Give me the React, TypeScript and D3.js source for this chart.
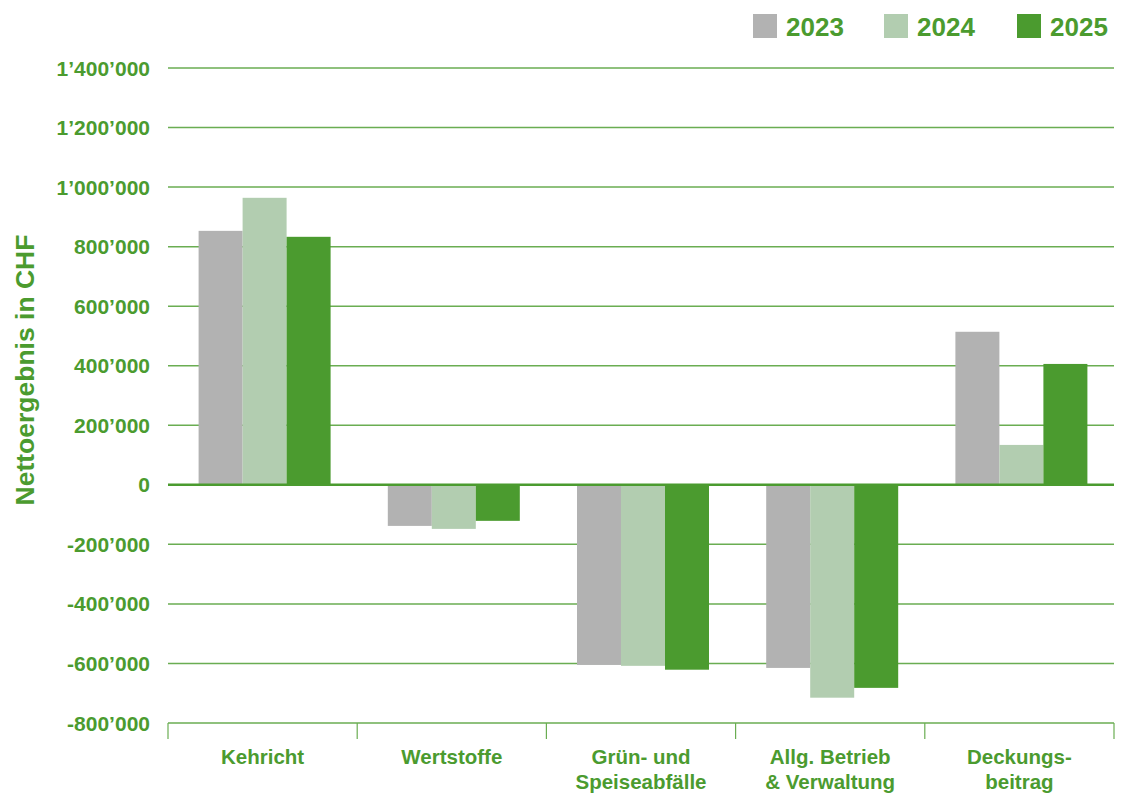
import React from "react";
import * as d3 from "d3";

const categories: string[][] = [
  ["Kehricht"],
  ["Wertstoffe"],
  ["Grün- und", "Speiseabfälle"],
  ["Allg. Betrieb", "& Verwaltung"],
  ["Deckungs-", "beitrag"],
];
const years = ["2023", "2024", "2025"];
const values2023 = [853000, -138000, -605000, -615000, 514000];
const values2024 = [964000, -148000, -608000, -715000, 134000];
const values2025 = [833000, -121000, -621000, -682000, 406000];
const yTicks = [-800000, -600000, -400000, -200000, 0, 200000, 400000, 600000, 800000, 1000000, 1200000, 1400000];
const colors = ["#b2b2b2", "#b2cdb0", "#4b9b2f"];
const GREEN = "#4b9b2f";

const fmt = (v: number) => {
  const s = Math.abs(v).toString().replace(/\B(?=(\d{3})+(?!\d))/g, "\u2019");
  return (v < 0 ? "-" : "") + s;
};

export default function App() {
  const W = 1133, H = 794;
  const left = 168, right = 1114;
  const y = d3.scaleLinear().domain([-800000, 1400000]).range([723, 68]);
  const x0 = d3.scaleBand<number>().domain(categories.map((_, i) => i)).range([left, right]).paddingInner(0).paddingOuter(0);
  const groupW = 132;
  const x1 = d3.scaleBand<number>().domain([0, 1, 2]).range([0, groupW]);
  const series = [values2023, values2024, values2025];
  const font = "'Liberation Sans', Arial, Helvetica, sans-serif";
  const bounds = d3.range(categories.length + 1).map((i) => left + i * x0.bandwidth());

  return (
    <svg width={W} height={H} style={{ position: "absolute", left: 0, top: 0 }} fontFamily={font}>
      <rect width={W} height={H} fill="#fff" />
      {yTicks.map((t) => (
        <g key={t}>
          {t !== 0 && (
            <line x1={left} x2={right} y1={y(t)} y2={y(t)} stroke="#6aad52" strokeWidth={1.5} />
          )}
          <text x={150} y={y(t)} dy="0.36em" textAnchor="end" fontSize={21} fontWeight="bold" fill={GREEN}>
            {fmt(t)}
          </text>
        </g>
      ))}
      {categories.map((_, ci) => {
        const gx = (x0(ci) as number) + (x0.bandwidth() - groupW) / 2 + 2;
        return series.map((vals, si) => {
          const v = vals[ci];
          return (
            <rect
              key={`${ci}-${si}`}
              x={gx + (x1(si) as number)}
              width={x1.bandwidth()}
              y={Math.min(y(v), y(0))}
              height={Math.abs(y(v) - y(0))}
              fill={colors[si]}
            />
          );
        });
      })}
      <line x1={left} x2={right} y1={y(0)} y2={y(0)} stroke={GREEN} strokeWidth={2.5} />
      {bounds.map((b, i) => (
        <line key={i} x1={b} x2={b} y1={y(-800000)} y2={y(-800000) + 16} stroke="#6aad52" strokeWidth={1.2} />
      ))}
      {categories.map((lines, ci) => {
        const cx = (x0(ci) as number) + x0.bandwidth() / 2;
        return (
          <text key={ci} x={cx} y={764} textAnchor="middle" fontSize={20.5} fontWeight="bold" fill={GREEN}>
            {lines.map((l, li) => (
              <tspan key={li} x={cx} dy={li === 0 ? 0 : 25}>
                {l}
              </tspan>
            ))}
          </text>
        );
      })}
      <text
        transform={`translate(34, 370) rotate(-90)`}
        textAnchor="middle"
        fontSize={26.5}
        fontWeight="bold"
        fill={GREEN}
      >
        Nettoergebnis in CHF
      </text>
      {years.map((yr, i) => {
        const lx = [753, 884, 1017][i];
        return (
          <g key={yr}>
            <rect x={lx} y={14} width={24} height={24} fill={colors[i]} />
            <text x={lx + 33} y={36} fontSize={26} fontWeight="bold" fill={GREEN}>
              {yr}
            </text>
          </g>
        );
      })}
    </svg>
  );
}
